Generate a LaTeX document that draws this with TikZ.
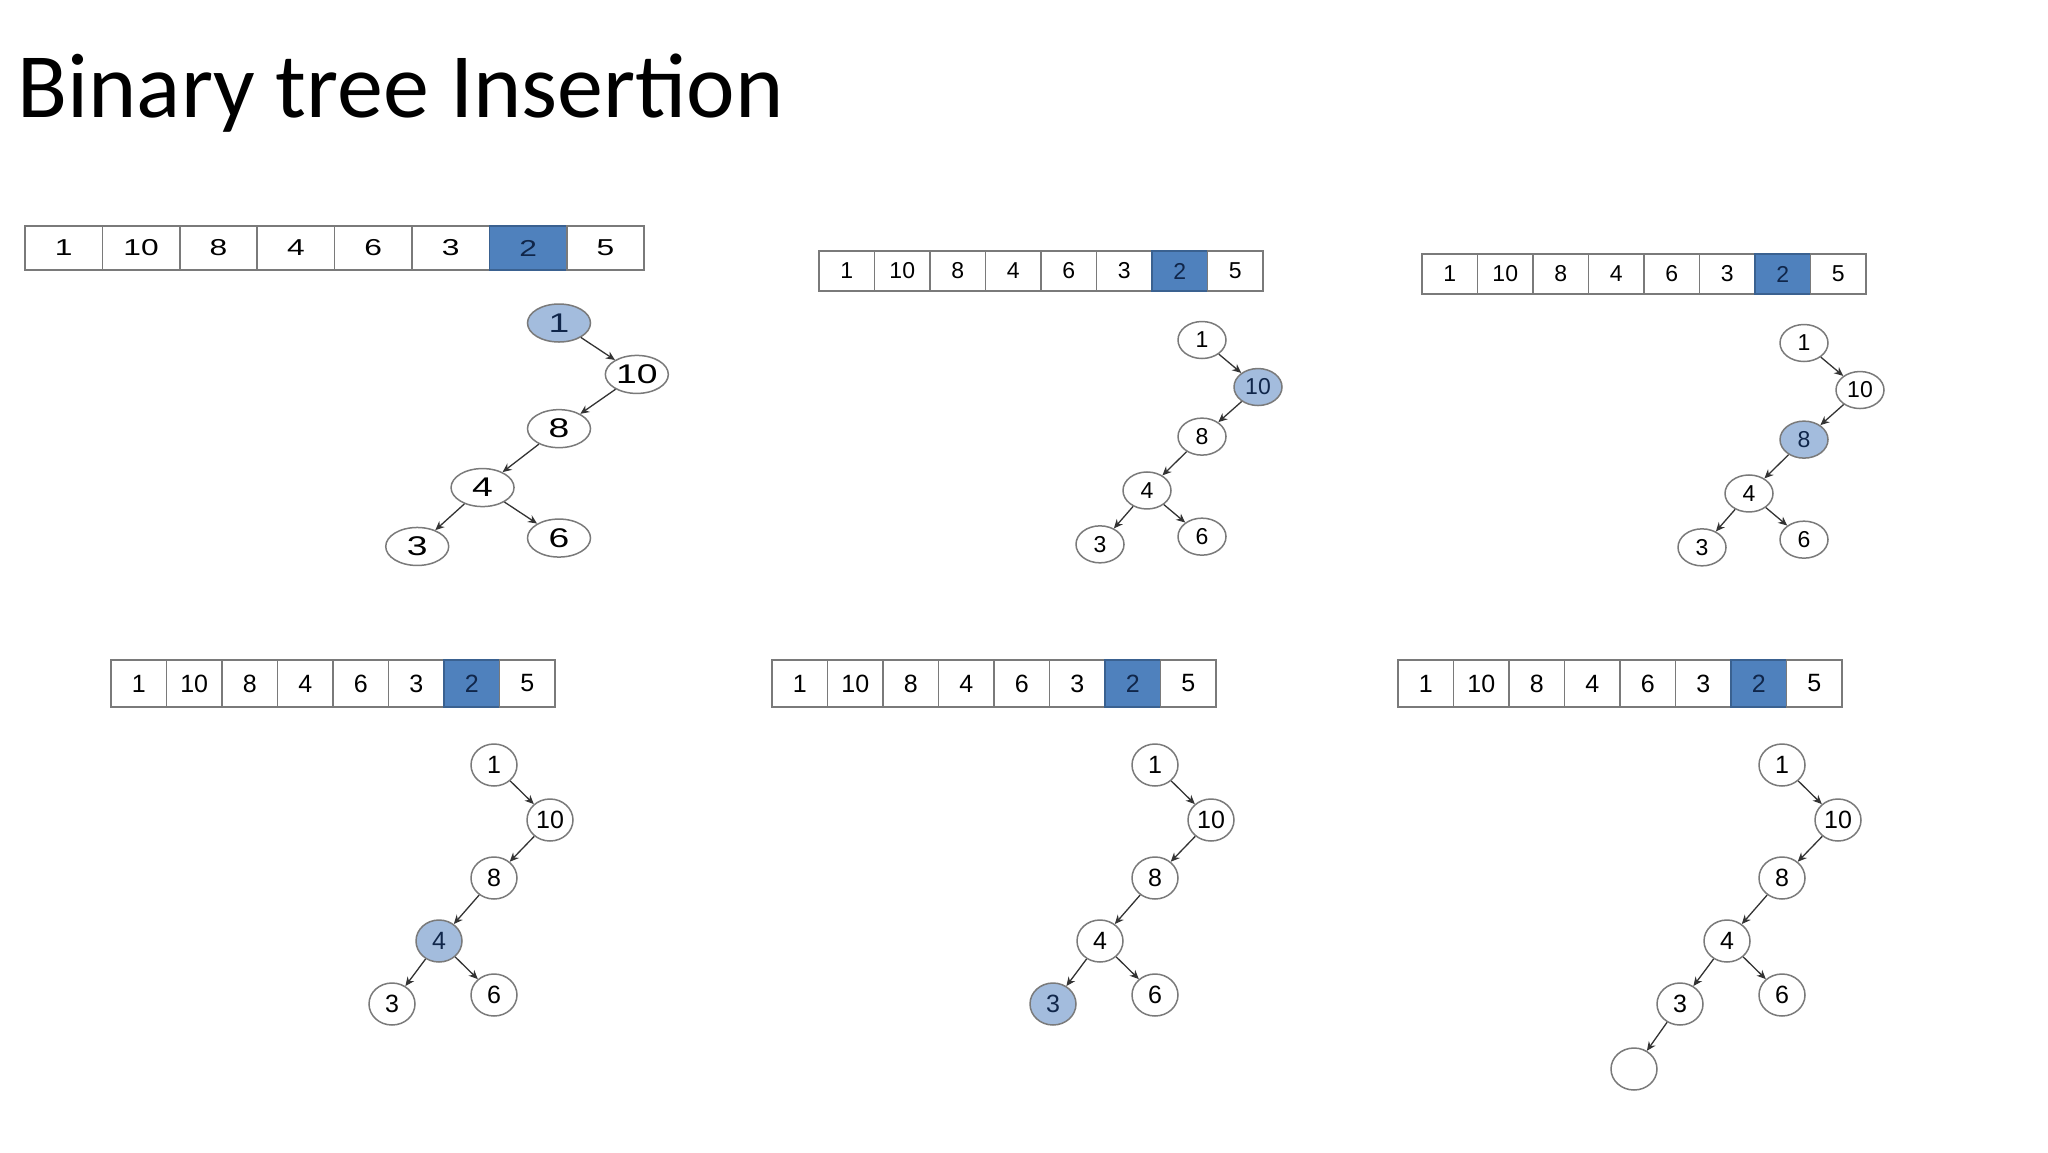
\documentclass[tikz,border=0pt]{standalone}
\usepackage{fontspec}
\usepackage{tikz}
\usetikzlibrary{arrows.meta,shapes.geometric}
\setmainfont{Carlito}
\newfontfamily\arial{Liberation Sans}
\newfontfamily\widearial[FakeStretch=1.38]{Liberation Sans}
\definecolor{cellblue}{HTML}{4F81BD}
\definecolor{cellrim}{HTML}{3A6190}
\definecolor{nodeblue}{HTML}{A3BCDD}
\definecolor{navy}{HTML}{10264A}
\definecolor{rimgrey}{HTML}{7A7A7A}

% one row of keys: prefix, left, top, cell width, cell height, font
\newcommand{\keyrow}[6]{%
  \foreach \v/\s [count=\i] in {1/cell,10/cell,8/cell,4/cell,6/cell,3/cell,2/pick,5/cell}
    \node[\s, font=#6, minimum width=#4pt, minimum height=#5pt] (#1c\i) at ({#2+(\i-0.5)*#4},{#3+0.5*#5}) {\v};
}

% the tree: prefix, root, xscale, yscale, size style, highlighted key
\newcommand{\bsttree}[6]{%
  \begin{scope}[shift={#2}, xscale=#3, yscale=#4]
    \tikzset{k1/.style={},k10/.style={},k8/.style={},k4/.style={},k3/.style={},k6/.style={},
      k#6/.style={fill=nodeblue,text=navy}}
    \node[key,#5,k1] (#1n1) at (0,0) {1};
    \node[key,#5,k10] (#1n10) at (56,55) {10};
    \node[key,#5,k8] (#1n8) at (0,113) {8};
    \node[key,#5,k4] (#1n4) at (-55,176) {4};
    \node[key,#5,k3] (#1n3) at (-102,239) {3};
    \node[key,#5,k6] (#1n6) at (0,230) {6};
    \path (#1n1) edge (#1n10);
    \path (#1n10) edge (#1n8);
    \path (#1n8) edge (#1n4);
    \path (#1n4) edge (#1n3);
    \path (#1n4) edge (#1n6);
  \end{scope}}

\begin{document}
\begin{tikzpicture}[x=1pt,y=-1pt,->,>={Stealth[length=9pt,width=8pt]},
    every edge/.style={draw=black!80,line width=1.3pt}]
    \tikzstyle{cell}=[draw=rimgrey,line width=1.5pt,fill=white,inner sep=0pt]
    \tikzstyle{pick}=[cell,draw=cellrim,fill=cellblue,text=navy]
    \tikzstyle{key}=[ellipse,draw=rimgrey,line width=1.5pt,fill=white,inner sep=0pt]
    \tikzset{widesize/.style={minimum width=63pt,minimum height=38pt,font=\widearial\fontsize{27}{30}\selectfont},
      midsize/.style={minimum width=48pt,minimum height=37pt,font=\arial\fontsize{23}{26}\selectfont},
      roundsize/.style={minimum width=46pt,minimum height=42pt,font=\arial\fontsize{25}{28}\selectfont}}
    \fill[white] (0,0) rectangle (2048,1152);
    \useasboundingbox (0,0) rectangle (2048,1152);

    \node[anchor=base west,font=\fontsize{92}{100}\selectfont] (title) at (14,117) {Binary tree Insertion};

    % top row
    \keyrow{a}{25}{226}{77.4}{44}{\widearial\fontsize{23}{26}\selectfont}
    \bsttree{a}{(559,323)}{1.39}{0.935}{widesize}{1}
    \keyrow{b}{819}{251}{55.5}{40}{\arial\fontsize{23}{26}\selectfont}
    \bsttree{b}{(1202,340)}{1}{0.855}{midsize}{10}
    \keyrow{c}{1422}{254}{55.5}{40}{\arial\fontsize{23}{26}\selectfont}
    \bsttree{c}{(1804,343)}{1}{0.855}{midsize}{8}

    % bottom row
    \keyrow{d}{111}{660}{55.5}{47}{\arial\fontsize{25}{28}\selectfont}
    \bsttree{d}{(494,765)}{1}{1}{roundsize}{4}
    \keyrow{e}{772}{660}{55.5}{47}{\arial\fontsize{25}{28}\selectfont}
    \bsttree{e}{(1155,765)}{1}{1}{roundsize}{3}
    \keyrow{f}{1398}{660}{55.5}{47}{\arial\fontsize{25}{28}\selectfont}
    \bsttree{f}{(1782,765)}{1}{1}{roundsize}{0}
    \node[key,roundsize] (fn0) at (1634,1069) {};
    \path (fn3) edge (fn0);
\end{tikzpicture}
\end{document}
